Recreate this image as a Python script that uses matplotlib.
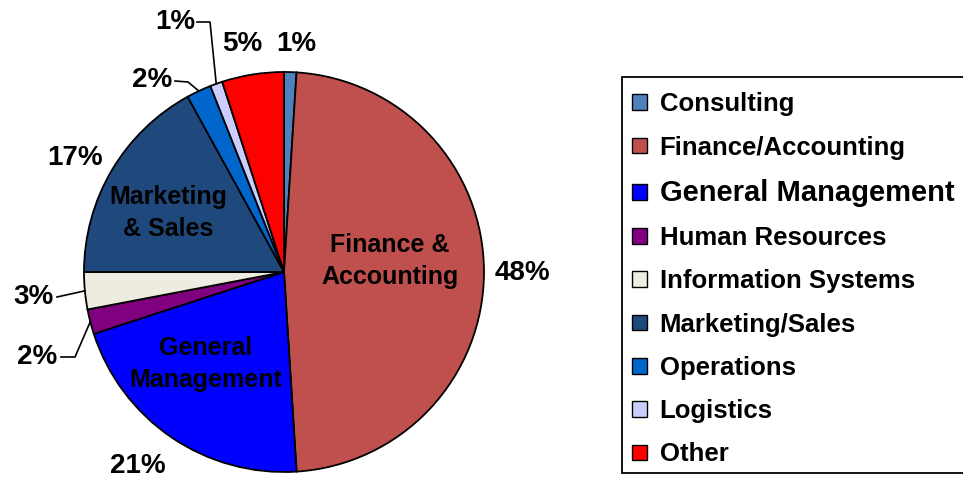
import numpy as np
import matplotlib
matplotlib.use('Agg')
import matplotlib.pyplot as plt
from matplotlib.patches import Rectangle

plt.rcParams['font.family'] = ['Liberation Sans', 'DejaVu Sans']
plt.rcParams['font.weight'] = 'bold'

#####################  data  ####################
categories = ['Consulting', 'Finance/Accounting', 'General Management', 'Human Resources',
              'Information Systems', 'Marketing/Sales', 'Operations', 'Logistics', 'Other']
shares = [1, 48, 21, 2, 3, 17, 2, 1, 5]
pct_labels = ['1%', '48%', '21%', '2%', '3%', '17%', '2%', '1%', '5%']
inner_labels = {1: 'Finance &\nAccounting', 2: 'General\nManagement', 5: 'Marketing\n& Sales'}
colors = ['#4F81BD', '#C0504D', '#0000FF', '#800080', '#EEECE1',
          '#1F497D', '#0066CC', '#CCCCFF', '#FF0000']

#####################  figure  ####################
W, H = 963, 482
CX, CY, R = 284, 272, 200   # pie centre and radius in pixels
fig = plt.figure(figsize=(W / 100, H / 100), dpi=100)
ax = fig.add_axes([0, 0, 1, 1])

wedges, _ = ax.pie(shares, colors=colors, startangle=90, counterclock=False,
                   radius=1.0, wedgeprops=dict(edgecolor='black', linewidth=1.3))

# pie() resets the limits, so set them afterwards
ax.set_xlim(-CX / R, (W - CX) / R)
ax.set_ylim(-(H - CY) / R, CY / R)
ax.set_aspect('equal')
ax.axis('off')

def px(p):
    return ((p[0] - CX) / R, (CY - p[1]) / R)

# mid angles of slices
mids = []
for w in wedges:
    mids.append(np.deg2rad((w.theta1 + w.theta2) / 2))

# plain percentage labels (no leader line), pixel positions
plain_pos = {0: (296, 44), 1: (522, 273), 2: (138, 466), 5: (75, 158), 8: (242, 44)}
for i, p in plain_pos.items():
    x, y = px(p)
    ax.text(x, y, pct_labels[i], ha='center', va='center', fontsize=20, fontweight='bold')

# labels with leader lines: text position, line start, elbow (pixels)
leaders = {
    7: ((175, 22), (197, 22), (210, 22)),
    6: ((152, 80), (175, 81), (188, 82)),
    4: ((33, 297), (57, 297), None),
    3: ((37, 357), (61, 357), (75, 357)),
}
for i, (tpos, lstart, elbow) in leaders.items():
    tx, ty = px(tpos)
    ax.text(tx, ty, pct_labels[i], ha='center', va='center', fontsize=20, fontweight='bold')
    pts = [px(lstart)]
    if elbow is not None:
        pts.append(px(elbow))
    pts.append((np.cos(mids[i]), np.sin(mids[i])))
    xs, ys = zip(*pts)
    ax.plot(xs, ys, color='black', lw=1.2)

# category labels inside the big slices
inner_pos = {1: (390, 261), 2: (206, 364), 5: (168, 213)}
for i, lab in inner_labels.items():
    x, y = px(inner_pos[i])
    ax.text(x, y, lab, ha='center', va='center', fontsize=18, fontweight='bold',
            linespacing=1.4)

#####################  legend  ####################
# frame drawn separately: in the original it runs off the right edge
fig.patches.append(Rectangle((622 / W, 1 - 473 / H), 360 / W, 396 / H,
                             transform=fig.transFigure, facecolor='white',
                             edgecolor='black', linewidth=1.3, zorder=0))
leg = fig.legend(wedges, categories, loc='upper left',
                 bbox_to_anchor=(622 / W, 1 - 82 / H), fontsize=18.5,
                 frameon=False, handlelength=0.56, handleheight=0.56, handletextpad=0.5,
                 labelspacing=0.75, borderpad=0.4, borderaxespad=0)
for t in leg.get_texts():
    t.set_fontweight('bold')
    if t.get_text() == 'General Management':
        t.set_fontsize(21)
for h in leg.legend_handles:
    h.set_linewidth(1.0)

fig.savefig('out.png', dpi=100)
